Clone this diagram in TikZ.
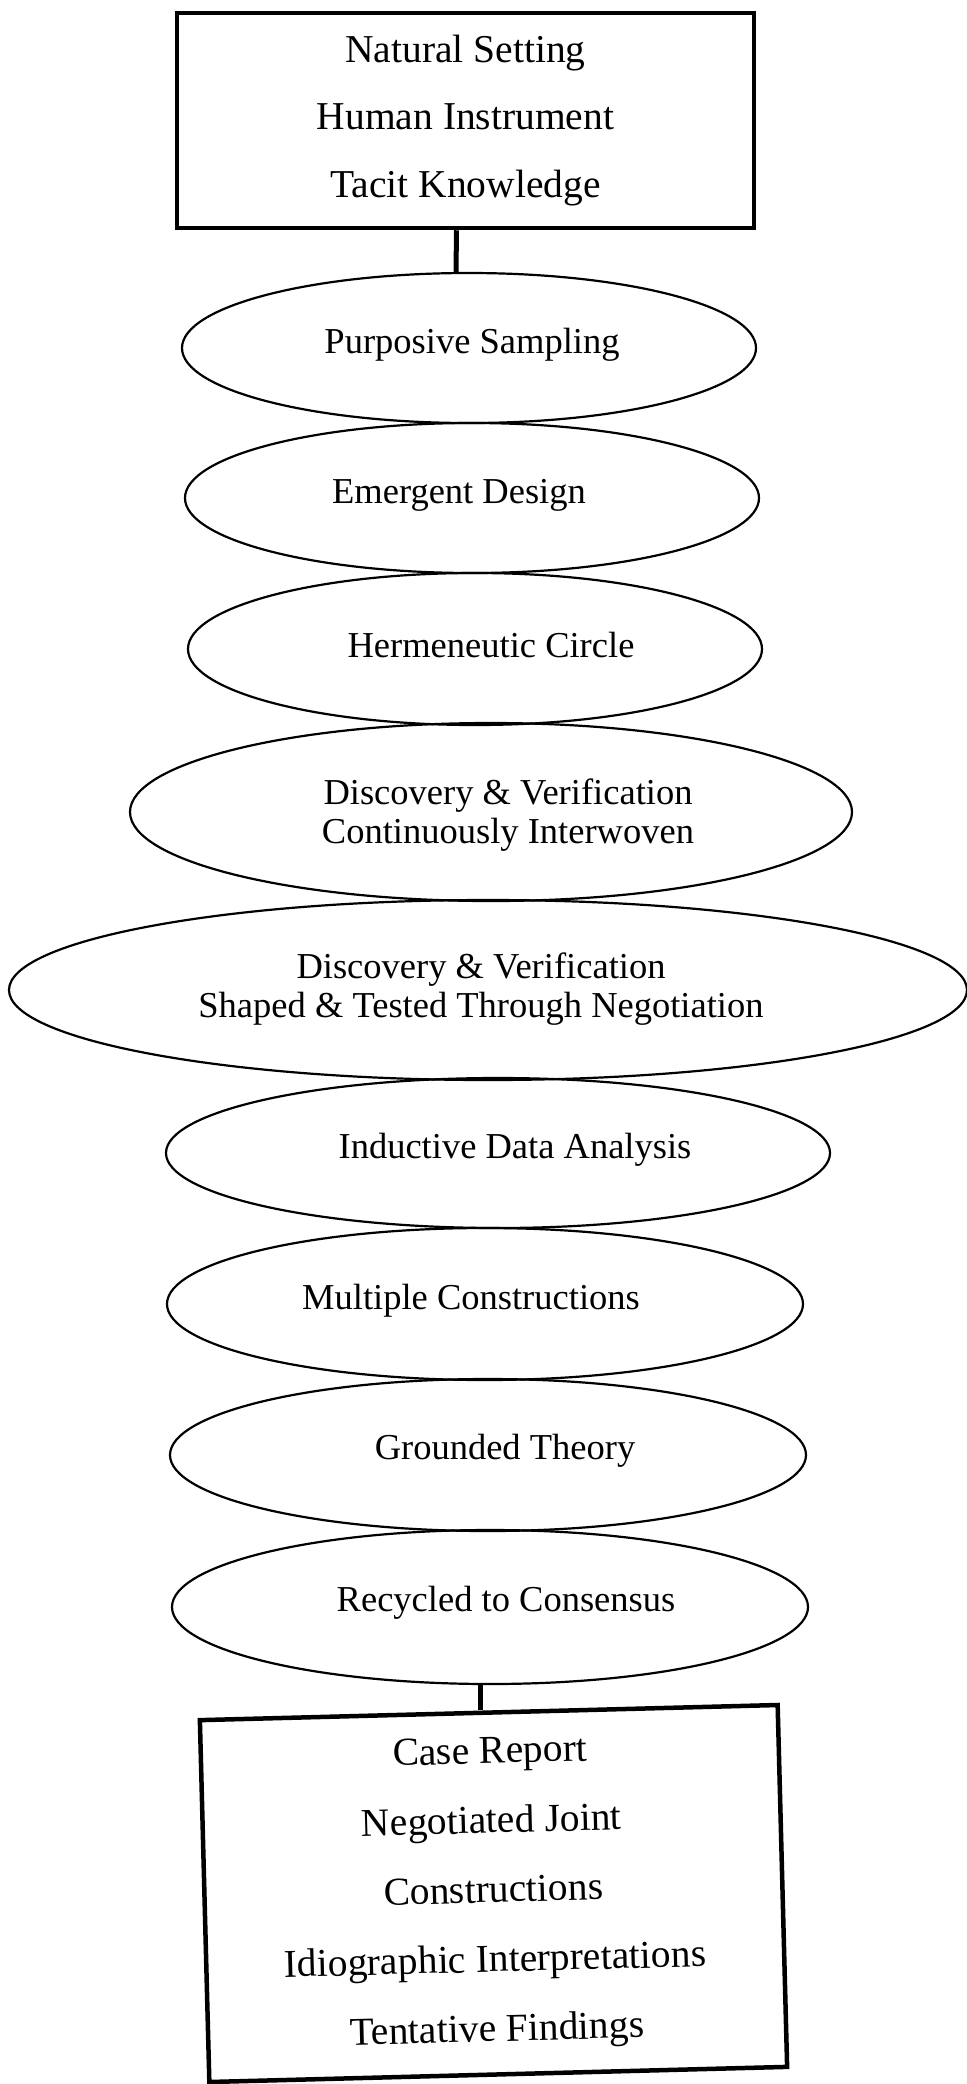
\documentclass[tikz,border=0pt]{standalone}
\usepackage{fontspec}
\setmainfont{Liberation Serif}
\usetikzlibrary{shapes.geometric}
\begin{document}
\begin{tikzpicture}[x=0.5pt,y=-0.5pt,
  boxnode/.style={draw, line width=2.25pt, align=center, inner sep=0pt},
  oval/.style={ellipse, draw, line width=1.1pt, inner sep=0pt},
  lbl/.style={align=center, inner sep=0pt, font=\fontsize{18.25}{19.5}\selectfont},
  conn/.style={line width=2.5pt}]
\useasboundingbox (0,0) rectangle (967,2084);
\fill[white] (0,0) rectangle (967,2084);

% top box
\node[boxnode, minimum width=288.5pt, minimum height=107.5pt,
  font=\fontsize{19.75}{33.75}\selectfont] (top) at (465.5,120.5)
  {Natural Setting\\Human Instrument\\Tacit Knowledge};

% ellipses
\node[oval, minimum width=287pt, minimum height=75pt] (e1) at (469,348) {};
\node[oval, minimum width=287pt, minimum height=75pt] (e2) at (472,498) {};
\node[oval, minimum width=287pt, minimum height=76pt] (e3) at (475,649) {};
\node[oval, minimum width=361pt, minimum height=89pt] (e4) at (491,812) {};
\node[oval, minimum width=479pt, minimum height=90pt] (e5) at (488,990) {};
\node[oval, minimum width=332pt, minimum height=75pt] (e6) at (498,1153) {};
\node[oval, minimum width=318pt, minimum height=76pt] (e7) at (485,1304) {};
\node[oval, minimum width=318pt, minimum height=76pt] (e8) at (488,1455) {};
\node[oval, minimum width=318pt, minimum height=77pt] (e9) at (490,1607) {};

% ellipse texts
\node[lbl] (t1) at (472,345) {Purposive Sampling};
\node[lbl] (t2) at (459,495) {Emergent Design};
\node[lbl] (t3) at (491,645) {Hermeneutic Circle};
\node[lbl] (t4) at (508,815) {Discovery \& Verification\\Continuously Interwoven};
\node[lbl] (t5) at (481,989) {Discovery \& Verification\\Shaped \& Tested Through Negotiation};
\node[lbl] (t6) at (515,1150) {Inductive Data Analysis};
\node[lbl] (t7) at (471,1301) {Multiple Constructions};
\node[lbl] (t8) at (505,1451) {Grounded Theory};
\node[lbl] (t9) at (506,1603) {Recycled to Consensus};

% bottom box
\node[boxnode, minimum width=289pt, minimum height=181pt, rotate=1.5,
  font=\fontsize{19.75}{34.75}\selectfont] (bot) at (493.5,1893.5)
  {Case Report\\Negotiated Joint\\Constructions\\Idiographic Interpretations\\Tentative Findings};

% connectors
\draw[conn] ([xshift=-4.5pt]top.south) -- ([xshift=-6.5pt]e1.north);
\draw[conn] ([xshift=-5pt]e9.south) -- ([xshift=-5pt]e9.south |- bot.north);
\end{tikzpicture}
\end{document}
